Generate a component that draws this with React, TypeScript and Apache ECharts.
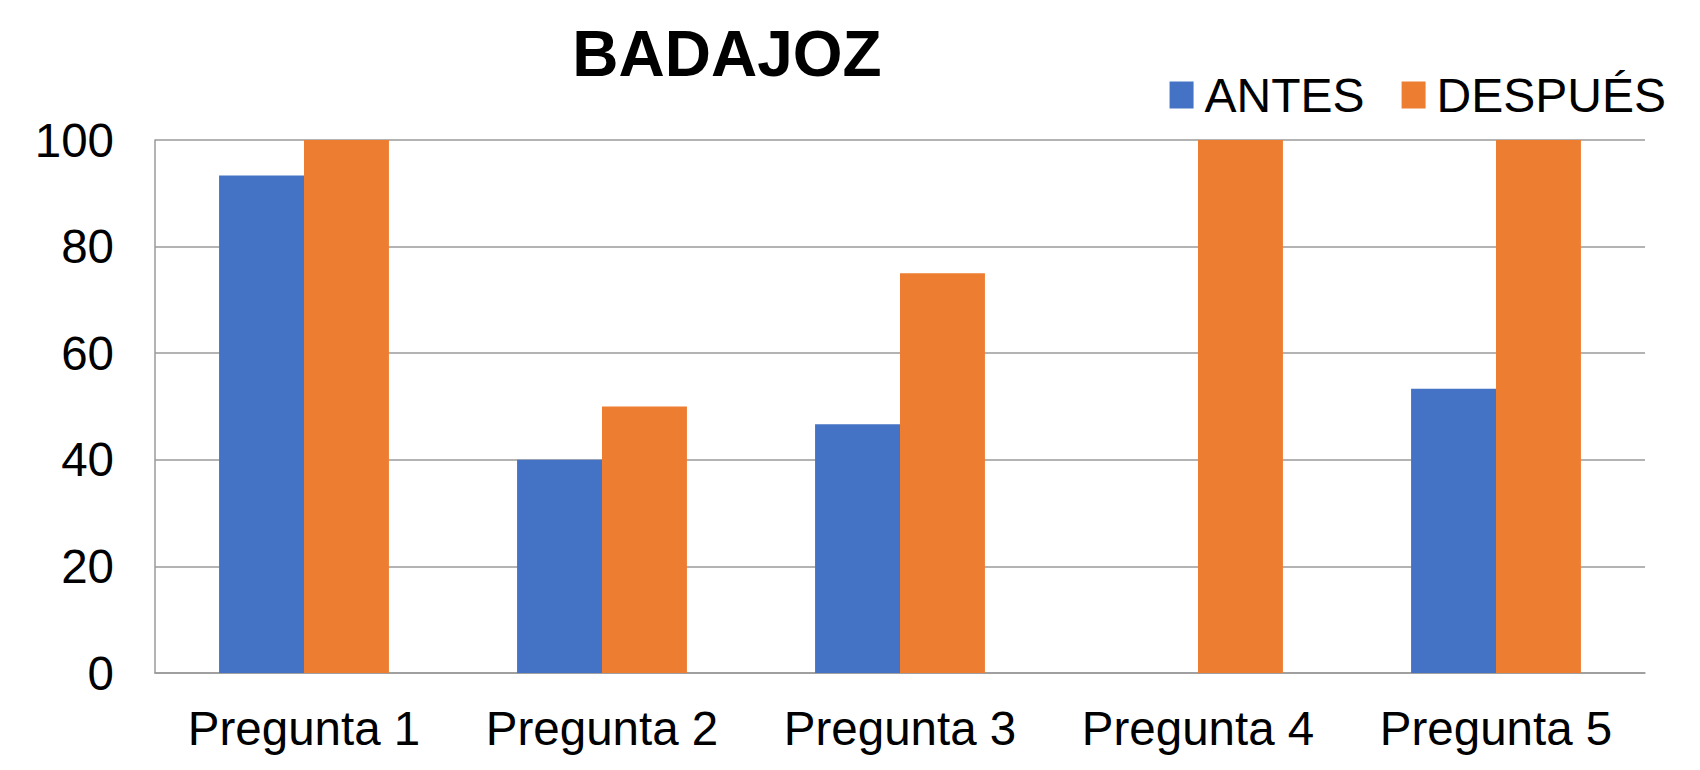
import React, { useEffect, useRef } from "react";
import * as echarts from "echarts";

const categories = ["Pregunta 1", "Pregunta 2", "Pregunta 3", "Pregunta 4", "Pregunta 5"];
const antes = [93.33, 40, 46.67, 0, 53.33];
const despues = [100, 50, 75, 100, 100];
const seriesNames = ["ANTES", "DESPUÉS"];
const titleText = "BADAJOZ";

const FONT = "'Liberation Sans', Arial, sans-serif";

export default function App() {
  const ref = useRef<HTMLDivElement>(null);
  useEffect(() => {
    if (!ref.current) return;
    const chart = echarts.init(ref.current, undefined, { renderer: "svg" });
    chart.setOption({
      animation: false,
      backgroundColor: "#ffffff",
      textStyle: { fontFamily: FONT },
      title: {
        text: titleText,
        left: 722,
        textAlign: "center",
        top: 17,
        textStyle: { fontFamily: FONT, fontSize: 64, fontWeight: "bold", color: "#000" },
      },
      legend: {
        data: seriesNames,
        right: 29,
        top: 66,
        itemWidth: 24,
        itemHeight: 27,
        itemGap: 37,
        icon: "rect",
        textStyle: { fontFamily: FONT, fontSize: 48, color: "#000", padding: [0, 0, 0, 6] },
      },
      grid: { left: 155, right: 55, top: 140, bottom: 97, containLabel: false },
      xAxis: {
        type: "category",
        data: categories,
        axisLine: { show: true, lineStyle: { color: "#9a9a9a", width: 1.5 } },
        axisTick: { show: false },
        axisLabel: { fontFamily: FONT, fontSize: 47.5, color: "#000", margin: 31, interval: 0 },
      },
      yAxis: {
        type: "value",
        min: 0,
        max: 100,
        interval: 20,
        axisLine: { show: true, lineStyle: { color: "#9a9a9a", width: 1.5 } },
        axisTick: { show: false },
        splitLine: { show: true, lineStyle: { color: "#9a9a9a", width: 1.5 } },
        axisLabel: { fontFamily: FONT, fontSize: 47.5, color: "#000", margin: 41 },
      },
      series: [
        {
          name: seriesNames[0],
          type: "bar",
          data: antes,
          barGap: "0%",
          barCategoryGap: "43%",
          itemStyle: { color: "#4472C4" },
        },
        {
          name: seriesNames[1],
          type: "bar",
          data: despues,
          barGap: "0%",
          barCategoryGap: "43%",
          itemStyle: { color: "#ED7D31" },
        },
      ],
    });
    return () => chart.dispose();
  }, []);
  return (
    <div
      ref={ref}
      style={{ position: "absolute", left: 0, top: 0, width: 1700, height: 770 }}
    />
  );
}
